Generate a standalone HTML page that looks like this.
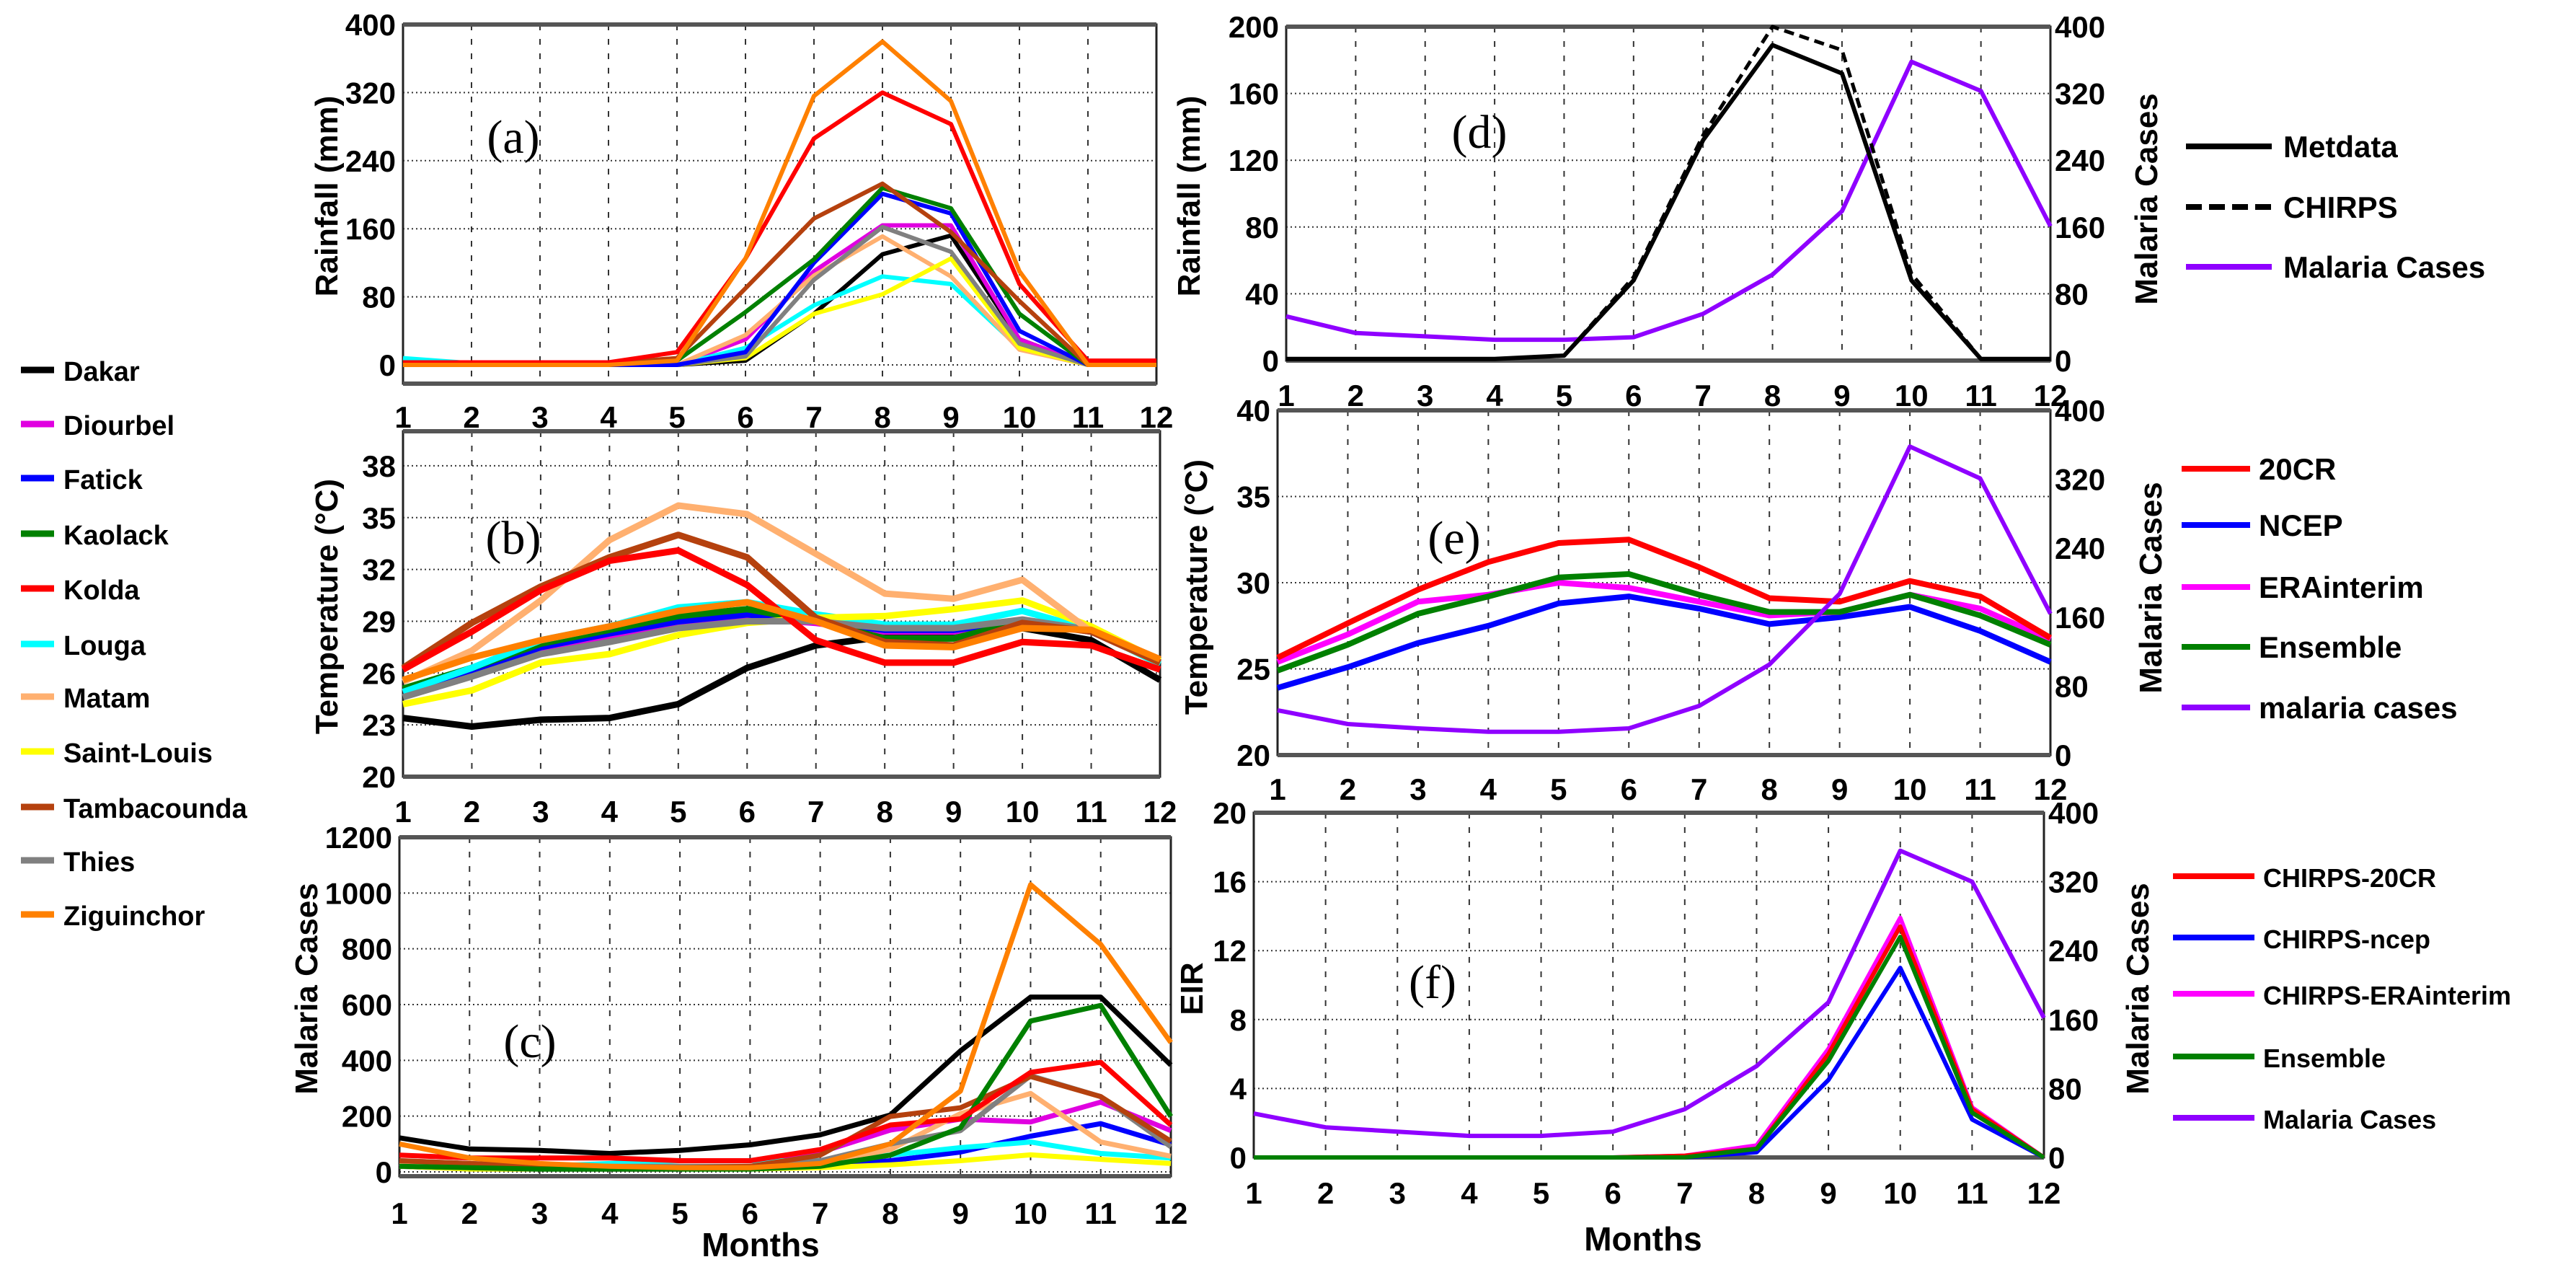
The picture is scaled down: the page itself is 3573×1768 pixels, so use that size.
<!DOCTYPE html>
<html><head><meta charset="utf-8"><style>
html,body{margin:0;padding:0;background:#fff;}
svg{display:block;font-family:"Liberation Sans",Arial,sans-serif;}
</style></head><body>
<svg id="fig" width="3573" height="1768" viewBox="0 0 3573 1768" xmlns="http://www.w3.org/2000/svg"></svg>
<script>
// ---------- DATA ----------
const months=[1,2,3,4,5,6,7,8,9,10,11,12];
const regions=["Dakar","Diourbel","Fatick","Kaolack","Kolda","Louga","Matam","Saint-Louis","Tambacounda","Thies","Ziguinchor"];
// (a) rainfall mm
const rainDakar=[0,0,0,0,0,5,60,130,152,30,0,0];
const rainDiourbel=[0,0,0,0,0,30,110,164,164,30,0,0];
const rainFatick=[0,0,0,0,0,15,120,201,178,40,0,0];
const rainKaolack=[0,0,0,0,5,62,124,208,184,60,0,0];
const rainKolda=[3,3,3,3,15,125,266,320,283,95,5,5];
const rainLouga=[8,2,0,0,0,20,70,104,95,20,0,0];
const rainMatam=[0,0,0,0,0,35,105,151,104,18,0,0];
const rainSaintLouis=[0,0,0,0,0,8,60,83,125,20,0,0];
const rainTamba=[0,0,0,2,8,90,172,213,156,75,0,0];
const rainThies=[0,0,0,0,0,10,100,162,133,25,0,0];
const rainZig=[0,0,0,0,5,125,316,380,310,110,0,0];
// (b) temperature
const tDakar=[23.4,22.9,23.3,23.4,24.2,26.3,27.6,28.1,28.2,28.6,27.9,25.6];
const tDiourbel=[24.9,26.0,27.3,28.1,28.7,29.2,28.9,28.4,28.4,29.0,28.4,26.6];
const tFatick=[24.9,26.1,27.5,28.3,29.0,29.4,29.0,28.5,28.5,29.0,28.4,26.6];
const tKaolack=[25.1,26.3,27.7,28.5,29.3,29.7,29.0,28.0,28.0,29.0,28.5,26.7];
const tKolda=[26.2,28.4,30.8,32.5,33.1,31.1,27.9,26.6,26.6,27.8,27.6,26.2];
const tLouga=[24.9,26.3,27.9,28.7,29.8,30.1,29.4,28.8,28.8,29.6,28.5,26.5];
const tMatam=[25.5,27.3,30.2,33.7,35.7,35.2,32.9,30.6,30.3,31.4,28.4,26.6];
const tSaintLouis=[24.2,25.0,26.6,27.1,28.2,28.9,29.2,29.3,29.7,30.2,28.7,26.7];
const tTamba=[26.3,28.9,31.0,32.7,34.0,32.7,29.2,27.8,27.6,28.9,28.4,26.6];
const tThies=[24.6,25.8,27.1,27.8,28.6,29.0,29.0,28.6,28.6,29.1,28.5,26.6];
const tZig=[25.6,26.9,27.9,28.7,29.6,30.1,29.0,27.6,27.5,28.6,28.5,26.8];
// (c) malaria cases
const mDakar=[122,82,77,66,77,97,133,204,434,627,627,383];
const mDiourbel=[30,20,15,10,10,15,70,150,189,179,250,148];
const mFatick=[20,10,10,10,10,15,20,40,71,128,173,97];
const mKaolack=[20,15,10,10,10,10,20,60,158,541,597,199];
const mKolda=[60,50,50,50,40,40,80,168,190,357,393,168];
const mLouga=[30,20,20,30,40,40,40,60,87,107,66,50];
const mMatam=[30,20,20,20,20,20,30,80,209,281,107,56];
const mSaintLouis=[20,10,10,10,10,10,15,25,40,61,45,30];
const mTamba=[40,30,20,15,15,20,60,199,230,342,270,110];
const mThies=[40,30,20,20,20,20,40,100,148,345,270,90];
const mZig=[100,50,30,20,15,15,30,100,290,1030,816,464];
// (d)
const dMetdata=[1,1,1,1,3,48,132,189,172,48,1,1];
const dChirps=[1,1,1,1,3,50,135,200,186,52,1,1];
const dMalaria=[53,33,29,25,25,28,56,103,179,358,323,161];
// (e)
const e20CR=[25.65,27.65,29.6,31.2,32.3,32.5,30.9,29.1,28.9,30.1,29.2,26.8];
const eNCEP=[23.9,25.1,26.5,27.5,28.8,29.2,28.5,27.6,28.0,28.6,27.2,25.4];
const eERA=[25.4,27.0,28.9,29.3,30.0,29.7,28.9,28.1,28.3,29.3,28.5,26.7];
const eEns=[24.9,26.4,28.2,29.2,30.3,30.5,29.3,28.3,28.3,29.3,28.1,26.4];
const eMalaria=[52,36,31,27,27,31,57,105,187,358,321,164];
// (f)
const f20CR=[0,0,0,0,0,0,0.1,0.5,6,13.4,2.8,0];
const fNCEP=[0,0,0,0,0,0,0,0.3,4.5,11,2.2,0];
const fERA=[0,0,0,0,0,0,0.1,0.7,6.3,13.9,2.9,0];
const fEns=[0,0,0,0,0,0,0,0.5,5.6,12.8,2.6,0];
const fMalaria=[51,35,30,25,25,30,56,106,180,356,320,162];
// ticks
const ticksA=[0,80,160,240,320,400];
const ticksB=[20,23,26,29,32,35,38];
const ticksC=[0,200,400,600,800,1000,1200];
const ticksD=[0,40,80,120,160,200];
const ticksE=[20,25,30,35,40];
const ticksF=[0,4,8,12,16,20];
const ticksMal=[0,80,160,240,320,400];

// ---------- DRAW ----------
const NS="http://www.w3.org/2000/svg";
const svg=document.getElementById('fig');
function mk(tag,attrs,parent){const e=document.createElementNS(NS,tag);for(const k in attrs)e.setAttribute(k,attrs[k]);(parent||svg).appendChild(e);return e;}
function txt(s,attrs,parent){const e=mk('text',attrs,parent);e.textContent=s;return e;}

const colors={Dakar:"#000000",Diourbel:"#e000e0",Fatick:"#0000ff",Kaolack:"#008000",Kolda:"#ff0000",Louga:"#00ffff",Matam:"#ffb070","Saint-Louis":"#ffff00",Tambacounda:"#b5410e",Thies:"#808080",Ziguinchor:"#ff8000"};
const PURPLE="#8f00ff";

function makeScale(g){
  const sx=m=>g.x0+(m-1)*(g.x1-g.x0)/11;
  const sy=v=>g.pa+(v-g.va)*(g.pb-g.pa)/(g.vb-g.va);
  return {sx,sy};
}
function frame(g,name,yTicks,rScale,rTicks){
  const grp=mk('g',{});
  
  
  const {sx,sy}=makeScale(g);
  // vertical grid
  for(let m=2;m<=11;m++){
    const l=mk('line',{x1:sx(m),x2:sx(m),y1:g.top,y2:g.bot,stroke:"#333",'stroke-width':2,'stroke-dasharray':"8,12"},grp);
    
    
  }
  // horizontal grid
  yTicks.forEach(v=>{
    const y=sy(v); if(y<=g.top+3||y>=g.bot-3) return;
    const l=mk('line',{x1:g.x0,x2:g.x1,y1:y,y2:y,stroke:"#333",'stroke-width':2,'stroke-dasharray':"2,4"},grp);
    
    
  });
  // left tick labels
  yTicks.forEach(v=>{
    const t=txt(String(v),{x:g.x0-10,y:sy(v)+15,'text-anchor':'end','font-size':42,'font-weight':'bold'},grp);
    
    
  });
  if(rScale){
    rTicks.forEach(v=>{
      const t=txt(String(v),{x:g.x1+6,y:rScale(v)+15,'text-anchor':'start','font-size':42,'font-weight':'bold'},grp);
      
      
    });
  }
  const r=mk('rect',{x:g.x0,y:g.top,width:g.x1-g.x0,height:g.bot-g.top,fill:'none',stroke:'#222','stroke-width':3},grp);
  
  
  mk('line',{x1:g.x0,x2:g.x1,y1:g.top,y2:g.top,stroke:'#555','stroke-width':6},grp);
  mk('line',{x1:g.x0,x2:g.x1,y1:g.bot,y2:g.bot,stroke:'#555','stroke-width':6},grp);
  return {sx,sy};
}
function xLabels(g,y,name){
  const {sx}=makeScale(g);
  months.forEach(m=>{
    const t=txt(String(m),{x:sx(m),y:y,'text-anchor':'middle','font-size':42,'font-weight':'bold'});
    
    
  });
}
function series(vals,sx,sy,color,w,name,dash){
  const pts=vals.map((v,i)=>sx(months[i]).toFixed(1)+","+sy(v).toFixed(1)).join(" ");
  const p=mk('polyline',{points:pts,fill:'none',stroke:color,'stroke-width':w,'stroke-linejoin':'round'});
  if(dash)p.setAttribute('stroke-dasharray',dash);
  
  
  return p;
}
function vlabel(s,x,y,size,name){
  const t=txt(s,{x:x,y:y,transform:`rotate(-90 ${x} ${y})`,'text-anchor':'middle','font-size':size,'font-weight':'bold'});
  
  
}
function plabel(s,x,y,name){
  const t=txt(s,{x:x,y:y,'text-anchor':'middle','font-size':66,'font-family':'"Liberation Serif",serif'});
  
  
}

// Panel geometry
const gA={x0:559,x1:1604,top:34,bot:532,va:0,pa:506,vb:400,pb:34};
const gB={x0:559,x1:1609,top:598,bot:1077,va:20,pa:1077,vb:40,pb:598};
const gC={x0:554,x1:1624,top:1161,bot:1631,va:0,pa:1625,vb:1200,pb:1161};
const gD={x0:1784,x1:2844,top:37,bot:500,va:0,pa:500,vb:200,pb:37};
const gE={x0:1772,x1:2844,top:569,bot:1047,va:20,pa:1047,vb:40,pb:569};
const gF={x0:1739,x1:2835,top:1127,bot:1605,va:0,pa:1605,vb:20,pb:1127};
const malScale=g=>v=>g.bot+(v-0)*(g.top-g.bot)/400;

// (a)
let s=frame(gA,'panel-a',ticksA);
[rainDakar,rainDiourbel,rainLouga,rainMatam,rainSaintLouis,rainThies,rainFatick,rainKaolack,rainTamba,rainKolda,rainZig].forEach((v,i)=>{
  const nm=["Dakar","Diourbel","Louga","Matam","Saint-Louis","Thies","Fatick","Kaolack","Tambacounda","Kolda","Ziguinchor"][i];
  series(v,s.sx,s.sy,colors[nm],6,'rain-line-'+nm.toLowerCase());
});
plabel("(a)",712,212,'panel-label-a');
vlabel("Rainfall (mm)",468,272,44,'y-axis-title-rainfall');
xLabels(gA,593,'x-tick-label-a');

// (b)
s=frame(gB,'panel-b',ticksB);
[tDakar,tDiourbel,tFatick,tKaolack,tLouga,tSaintLouis,tThies,tMatam,tTamba,tKolda,tZig].forEach((v,i)=>{
  const nm=["Dakar","Diourbel","Fatick","Kaolack","Louga","Saint-Louis","Thies","Matam","Tambacounda","Kolda","Ziguinchor"][i];
  series(v,s.sx,s.sy,colors[nm],9,'temp-line-'+nm.toLowerCase());
});
plabel("(b)",712,768,'panel-label-b');
vlabel("Temperature (°C)",468,841,44,'y-axis-title-temperature');
xLabels(gB,1140,'x-tick-label-b');

// (c)
s=frame(gC,'panel-c',ticksC);
[mDakar,mDiourbel,mFatick,mLouga,mSaintLouis,mMatam,mThies,mTamba,mKaolack,mKolda,mZig].forEach((v,i)=>{
  const nm=["Dakar","Diourbel","Fatick","Louga","Saint-Louis","Matam","Thies","Tambacounda","Kaolack","Kolda","Ziguinchor"][i];
  series(v,s.sx,s.sy,colors[nm],7,'malaria-line-'+nm.toLowerCase());
});
plabel("(c)",735,1466,'panel-label-c');
vlabel("Malaria Cases",440,1371,44,'y-axis-title-malaria');
xLabels(gC,1697,'x-tick-label-c');
let t=txt("Months",{x:1055,y:1742,'text-anchor':'middle','font-size':46,'font-weight':'bold'});



// (d)
let ms=malScale(gD);
s=frame(gD,'panel-d',ticksD,ms,ticksMal);
series(dMalaria,s.sx,ms,PURPLE,6,'malaria-cases-line-d');
series(dChirps,s.sx,s.sy,"#000",5,'chirps-line','14,8');
series(dMetdata,s.sx,s.sy,"#000",6,'metdata-line');
plabel("(d)",2052,205,'panel-label-d');
vlabel("Rainfall (mm)",1664,272,44,'y-axis-title-rainfall-d');
vlabel("Malaria Cases",2992,276,44,'right-axis-title-d');
xLabels(gD,563,'x-tick-label-d');

// (e)
ms=malScale(gE);
s=frame(gE,'panel-e',ticksE,ms,ticksMal);
series(eNCEP,s.sx,s.sy,"#0000ff",8,'ncep-line');
series(eERA,s.sx,s.sy,"#ff00ff",8,'erainterim-line');
series(eEns,s.sx,s.sy,"#008000",8,'ensemble-line-e');
series(e20CR,s.sx,s.sy,"#ff0000",8,'20cr-line');
series(eMalaria,s.sx,ms,PURPLE,6,'malaria-cases-line-e');
plabel("(e)",2017,768,'panel-label-e');
vlabel("Temperature (°C)",1674,814,44,'y-axis-title-temperature-e');
vlabel("Malaria Cases",2998,815,44,'right-axis-title-e');
xLabels(gE,1109,'x-tick-label-e');

// (f)
ms=malScale(gF);
s=frame(gF,'panel-f',ticksF,ms,ticksMal);
series(fMalaria,s.sx,ms,PURPLE,6,'malaria-cases-line-f');
series(fNCEP,s.sx,s.sy,"#0000ff",6,'chirps-ncep-line');
series(fERA,s.sx,s.sy,"#ff00ff",6,'chirps-erainterim-line');
series(f20CR,s.sx,s.sy,"#ff0000",6,'chirps-20cr-line');
series(fEns,s.sx,s.sy,"#008000",6,'ensemble-line-f');
plabel("(f)",1987,1384,'panel-label-f');
vlabel("EIR",1668,1371,44,'y-axis-title-eir');
vlabel("Malaria Cases",2980,1371,44,'right-axis-title-f');
xLabels(gF,1669,'x-tick-label-f');
t=txt("Months",{x:2279,y:1734,'text-anchor':'middle','font-size':46,'font-weight':'bold'});



// Legends
function legendEntry(label,color,lx0,lx1,tx,y,size,w,name,dash){
  const g=mk('g',{});
  
  
  const l=mk('line',{x1:lx0,x2:lx1,y1:y,y2:y,stroke:color,'stroke-width':w},g);
  if(dash)l.setAttribute('stroke-dasharray',dash);
  txt(label,{x:tx,y:y+15,'font-size':size,'font-weight':'bold'},g);
}
const legYs=[513,588,663,740,816,893,966,1042,1119,1193,1268];
regions.forEach((r,i)=>legendEntry(r,colors[r],29,75,88,legYs[i],38,9,'legend-entry-'+r.toLowerCase()));
legendEntry("Metdata","#000",3032,3151,3167,203,42,8,'legend-entry-metdata');
legendEntry("CHIRPS","#000",3032,3151,3167,287,42,8,'legend-entry-chirps','22,10');
legendEntry("Malaria Cases",PURPLE,3032,3151,3167,370,42,8,'legend-entry-malaria-cases-d');
legendEntry("20CR","#ff0000",3026,3121,3133,650,42,8,'legend-entry-20cr');
legendEntry("NCEP","#0000ff",3026,3121,3133,728,42,8,'legend-entry-ncep');
legendEntry("ERAinterim","#ff00ff",3026,3121,3133,814,42,8,'legend-entry-erainterim');
legendEntry("Ensemble","#008000",3026,3121,3133,897,42,8,'legend-entry-ensemble-e');
legendEntry("malaria cases",PURPLE,3026,3121,3133,981,42,8,'legend-entry-malaria-cases-e');
legendEntry("CHIRPS-20CR","#ff0000",3014,3127,3139,1215,36,8,'legend-entry-chirps-20cr');
legendEntry("CHIRPS-ncep","#0000ff",3014,3127,3139,1300,36,8,'legend-entry-chirps-ncep');
legendEntry("CHIRPS-ERAinterim","#ff00ff",3014,3127,3139,1378,36,8,'legend-entry-chirps-erainterim');
legendEntry("Ensemble","#008000",3014,3127,3139,1465,36,8,'legend-entry-ensemble-f');
legendEntry("Malaria Cases",PURPLE,3014,3127,3139,1550,36,8,'legend-entry-malaria-cases-f');
</script>
</body></html>
